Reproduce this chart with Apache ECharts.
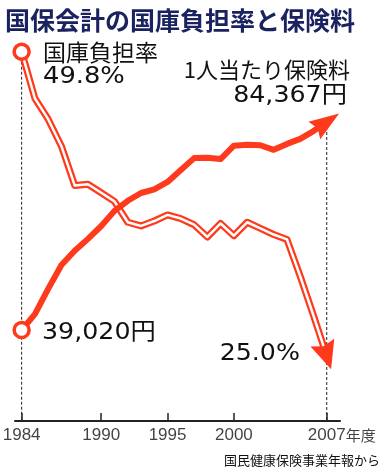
<!DOCTYPE html>
<html><head><meta charset="utf-8">
<script src="https://cdn.jsdelivr.net/npm/echarts@6/dist/echarts.min.js"></script>
<style>html,body{margin:0;padding:0;background:#fff}#c{width:384px;height:471px}</style>
</head><body><div id="c"></div>
<script>
const years = [1984,1985,1986,1987,1988,1989,1990,1991,1992,1993,1994,1995,1996,1997,1998,1999,2000,2001,2002,2003,2004,2005,2006,2007];
const burdenRate = [49.8,46.0,44.3,42.1,38.9,39.0,38.3,37.6,35.9,35.6,36.0,36.5,36.2,35.7,34.7,35.8,34.8,35.9,35.4,34.9,34.5,31.5,28.3,25.0];
const premium = [39020,42500,48000,53200,56300,58900,61700,65000,67200,68900,69700,71300,73900,76500,76600,76300,79200,79400,79300,78300,79600,80700,82400,84367];
const tickYears = [1984,1990,1995,2000,2007];
const titleText = '国保会計の国庫負担率と保険料';
const rateName = '国庫負担率';
const premiumName = '1人当たり保険料';
const sourceText = '国民健康保険事業年報から';

const RED = '#ff3a1c';
const INK = '#111';
const PCT_MIN = 19.7, PCT_MAX = 51.0;
const YEN_MIN = 19200, YEN_MAX = 102900;
const n = years.length;
const fmtYen = v => v.toLocaleString('en-US') + '円';
const fmtPct = v => v.toFixed(1) + '%';
const pts = vals => years.map((y, i) => [y, vals[i]]);
const ARROW = 'path://M10,0 L20,30 L10,26 L0,30 Z';

function arrowSeg(vals, yIdx, size) {
  const t = 0.7;
  const x0 = years[n-2] + t * (years[n-1] - years[n-2]);
  const y0 = vals[n-2] + t * (vals[n-1] - vals[n-2]);
  return {
    type: 'lines', coordinateSystem: 'cartesian2d', xAxisIndex: 0, yAxisIndex: yIdx,
    z: 6, silent: true, symbol: ['none', ARROW], symbolSize: [0, size],
    lineStyle: { color: RED, width: 0, opacity: 1 },
    data: [{ coords: [[x0, y0], [years[n-1], vals[n-1]]] }]
  };
}

const chart = echarts.init(document.getElementById('c'), null, { renderer: 'canvas' });
const BIG = '23px "DejaVu Sans", "Noto Sans CJK JP"';
chart.setOption({
  animation: false,
  backgroundColor: '#fff',
  grid: { left: 15, right: 44, top: 37, bottom: 50 },
  xAxis: {
    type: 'value', min: 1983.5, max: 2008,
    splitLine: { show: false },
    axisLine: { show: true, lineStyle: { color: '#222', width: 2 } },
    axisTick: { show: true, inside: true, length: 8, customValues: tickYears, lineStyle: { color: '#222', width: 1.5 } },
    axisLabel: { show: false }
  },
  yAxis: [
    { type: 'value', min: PCT_MIN, max: PCT_MAX, show: false },
    { type: 'value', min: YEN_MIN, max: YEN_MAX, show: false }
  ],
  series: [
    { type: 'line', yAxisIndex: 0, z: 1, silent: true, showSymbol: false,
      lineStyle: { color: '#222', width: 1, type: [3, 2] },
      data: [[years[0], burdenRate[0]], [years[0], PCT_MIN]] },
    { type: 'line', yAxisIndex: 1, z: 1, silent: true, showSymbol: false,
      lineStyle: { color: '#222', width: 1, type: [3, 2] },
      data: [[years[n-1], premium[n-1]], [years[n-1], YEN_MIN]] },
    { type: 'line', yAxisIndex: 0, z: 2, silent: true, showSymbol: false,
      lineStyle: { color: RED, width: 7, cap: 'round', join: 'round' }, data: pts(burdenRate) },
    { type: 'line', yAxisIndex: 0, z: 3, silent: true, showSymbol: false,
      lineStyle: { color: '#fff', width: 2.5, cap: 'round', join: 'round' }, data: pts(burdenRate) },
    { type: 'line', yAxisIndex: 1, z: 4, silent: true, showSymbol: false,
      lineStyle: { color: RED, width: 6, cap: 'round', join: 'round' }, data: pts(premium) },
    arrowSeg(burdenRate, 0, [25, 28]),
    arrowSeg(premium, 1, [21, 30]),
    { type: 'scatter', yAxisIndex: 0, z: 7, silent: true, symbolSize: 15,
      itemStyle: { color: '#fff', borderColor: RED, borderWidth: 3.5, opacity: 1 }, data: [[years[0], burdenRate[0]]] },
    { type: 'scatter', yAxisIndex: 1, z: 7, silent: true, symbolSize: 15,
      itemStyle: { color: '#fff', borderColor: RED, borderWidth: 3.5, opacity: 1 }, data: [[years[0], premium[0]]] },
    { type: 'scatter', yAxisIndex: 0, z: 8, silent: true, clip: false, symbolSize: 1,
      itemStyle: { color: 'rgba(0,0,0,0)' },
      label: {
        show: true, position: 'bottom', distance: 5,
        formatter: p => p.value[0] === years[n-1] ? '{p|\u3000\u3000}{n|' + p.value[0] + '}{u|年度}' : '{n|' + p.value[0] + '}',
        rich: {
          n: { fontSize: 17, fontFamily: 'Liberation Sans', color: INK },
          p: { fontSize: 15, fontFamily: 'Noto Sans CJK JP', color: 'rgba(0,0,0,0)' },
          u: { fontSize: 15, fontFamily: 'Noto Sans CJK JP', color: INK }
        }
      },
      data: tickYears.map(y => [y, PCT_MIN]) }
  ],
  graphic: [
    { type: 'text', x: 5, y: 20, style: { text: titleText, fill: '#1a2260', font: 'bold 25px "Noto Sans CJK JP"', textAlign: 'left', textVerticalAlign: 'middle' } },
    { type: 'text', x: 43, y: 52, style: { text: rateName, fill: INK, font: '23px "Noto Sans CJK JP"', textAlign: 'left', textVerticalAlign: 'middle' } },
    { type: 'text', x: 43, y: 77, scaleX: 1.12, style: { text: fmtPct(burdenRate[0]), fill: INK, font: BIG, textAlign: 'left', textVerticalAlign: 'middle' } },
    { type: 'text', x: 350, y: 70, style: { text: premiumName, fill: INK, font: '22px "Noto Sans CJK JP"', textAlign: 'right', textVerticalAlign: 'middle' } },
    { type: 'text', x: 347, y: 96, scaleX: 1.1, style: { text: fmtYen(premium[n-1]), fill: INK, font: BIG, textAlign: 'right', textVerticalAlign: 'middle' } },
    { type: 'text', x: 42, y: 333, scaleX: 1.1, style: { text: fmtYen(premium[0]), fill: INK, font: BIG, textAlign: 'left', textVerticalAlign: 'middle' } },
    { type: 'text', x: 300, y: 354, scaleX: 1.1, style: { text: fmtPct(burdenRate[n-1]), fill: INK, font: BIG, textAlign: 'right', textVerticalAlign: 'middle' } },
    { type: 'text', x: 380, y: 460, style: { text: sourceText, fill: INK, font: '13px "Noto Sans CJK JP"', textAlign: 'right', textVerticalAlign: 'middle' } }
  ]
});
</script></body></html>
